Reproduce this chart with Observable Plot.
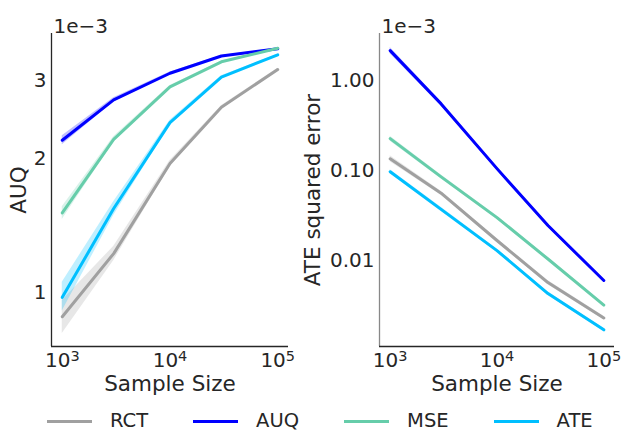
<!DOCTYPE html>
<html><head><meta charset="utf-8">
<script src="https://cdn.jsdelivr.net/npm/d3@7"></script>
<script src="https://cdn.jsdelivr.net/npm/@observablehq/plot@0.6"></script>
<style>
body{margin:0;background:#fff;font-family:"DejaVu Sans",sans-serif;color:#262626;}
#wrap{position:relative;width:621px;height:432px;overflow:hidden;background:#fff}
#left{position:absolute;left:0;top:0}
#right{position:absolute;left:300px;top:0}
#legend{position:absolute;left:47px;top:408px;height:26px;display:flex;font-size:19.5px;line-height:26px;white-space:nowrap}
.item{display:flex;align-items:center;margin-right:45px}
.sw{width:45px;height:3px;margin-right:18px}
</style></head>
<body><div id="wrap"><div id="left"></div><div id="right"></div><div id="legend"></div></div>
<script>
// Data (values in units of 1e-3)
const sizes = [1000, 3000, 10000, 30000, 100000];
const methods = ["RCT", "AUQ", "MSE", "ATE"];
const colors = ["#a0a0a0", "#0000ff", "#66cdaa", "#00bfff"];
const xTicks = [1e3, 1e4, 1e5];

// Left panel: AUQ
const auqRCT = [0.883, 1.224, 1.95, 2.61, 3.17];
const auqRCTlo = [0.81, 1.18, 1.92, 2.59, 3.15];
const auqRCThi = [0.96, 1.27, 1.98, 2.63, 3.19];
const auqAUQ = [2.20, 2.71, 3.11, 3.40, 3.53];
const auqAUQlo = [2.15, 2.68, 3.09, 3.39, 3.52];
const auqAUQhi = [2.25, 2.74, 3.13, 3.41, 3.54];
const auqMSE = [1.51, 2.21, 2.90, 3.30, 3.54];
const auqMSElo = [1.46, 2.18, 2.88, 3.29, 3.53];
const auqMSEhi = [1.56, 2.24, 2.92, 3.31, 3.55];
const auqATE = [0.976, 1.545, 2.41, 3.05, 3.42];
const auqATElo = [0.91, 1.49, 2.38, 3.03, 3.41];
const auqATEhi = [1.055, 1.60, 2.44, 3.07, 3.43];
const leftTicks = [1, 2, 3];

// Right panel: ATE squared error
const errRCT = [0.135, 0.056, 0.0167, 0.0057, 0.0023];
const errRCTlo = [0.125, 0.053, 0.0160, 0.0054, 0.0022];
const errRCThi = [0.146, 0.059, 0.0175, 0.0060, 0.0024];
const errAUQ = [2.15, 0.55, 0.105, 0.0245, 0.006];
const errAUQlo = [1.98, 0.52, 0.100, 0.0235, 0.0058];
const errAUQhi = [2.33, 0.58, 0.110, 0.0255, 0.0062];
const errMSE = [0.226, 0.085, 0.030, 0.0104, 0.0032];
const errMSElo = [0.212, 0.081, 0.0288, 0.0100, 0.0031];
const errMSEhi = [0.240, 0.089, 0.0312, 0.0108, 0.0033];
const errATE = [0.097, 0.037, 0.0129, 0.0043, 0.0017];
const errATElo = [0.092, 0.035, 0.0124, 0.0041, 0.00163];
const errATEhi = [0.102, 0.039, 0.0134, 0.0045, 0.00177];
const rightTicks = [0.01, 0.1, 1];

function rowsOf(series) {
  const rows = [];
  series.forEach(([m, v, lo, hi]) => sizes.forEach((s, j) => rows.push({method: m, size: s, v: v[j], lo: lo[j], hi: hi[j]})));
  return rows;
}

function panel(o) {
  const rows = rowsOf(o.series);
  const xd = [10 ** 2.9, 10 ** 5.1];
  const chart = Plot.plot({
    width: o.width, height: 390,
    marginLeft: o.marginLeft, marginRight: o.marginRight, marginTop: 33, marginBottom: 44,
    style: {fontFamily: "DejaVu Sans", fontSize: "20px", color: "#262626", background: "white", overflow: "visible"},
    x: {type: "log", domain: xd, ticks: xTicks, tickFormat: d => "10|" + Math.round(Math.log10(d)), tickSize: 0, tickPadding: 6, label: null},
    y: {type: "log", domain: o.ydomain, ticks: o.yticks, tickFormat: o.yfmt, tickSize: 0, tickPadding: 5, label: null},
    color: {domain: methods, range: colors},
    marks: [
      Plot.areaY(rows, {x: "size", y1: "lo", y2: "hi", z: "method", fill: "method", fillOpacity: 0.25}),
      Plot.lineY(rows, {x: "size", y: "v", z: "method", stroke: "method", strokeWidth: 3, strokeLinejoin: "round"}),
      Plot.ruleX([xd[0]], {stroke: o.yspine, strokeWidth: 1.3}),
      Plot.ruleY([o.ydomain[0]], {stroke: "#262626", strokeWidth: 1.3}),
      Plot.text(["1e\u22123"], {frameAnchor: "top-left", textAnchor: "start", lineAnchor: "bottom", dx: 2, dy: -1}),
      Plot.text([o.ylabel], {frameAnchor: "left", rotate: -90, textAnchor: "middle", lineAnchor: "middle", dx: o.ylabelDx, fontSize: 21.5}),
      Plot.text(["Sample Size"], {frameAnchor: "bottom", textAnchor: "middle", lineAnchor: "middle", dy: 38, fontSize: 21.5})
    ]
  });
  // render x tick labels as 10 with a raised exponent
  d3.select(chart).selectAll('g[aria-label="x-axis tick label"] text').each(function() {
    const parts = this.textContent.split("|");
    if (parts.length !== 2) return;
    const t = d3.select(this);
    t.text(null);
    t.append("tspan").text(parts[0]);
    t.append("tspan").attr("dy", "-0.42em").attr("font-size", "14.5px").text(parts[1]);
  });
  return chart;
}

document.getElementById("left").appendChild(panel({
  width: 300, marginLeft: 51, marginRight: 12,
  ydomain: [0.757, 3.82], yticks: leftTicks, yfmt: d => String(d),
  ylabel: "AUQ", ylabelDx: -32, yspine: "#262626",
  series: [["RCT", auqRCT, auqRCTlo, auqRCThi], ["AUQ", auqAUQ, auqAUQlo, auqAUQhi], ["MSE", auqMSE, auqMSElo, auqMSEhi], ["ATE", auqATE, auqATElo, auqATEhi]]
}));
document.getElementById("right").appendChild(panel({
  width: 321, marginLeft: 79, marginRight: 7,
  ydomain: [0.00111, 3.33], yticks: rightTicks, yfmt: d => d.toFixed(2),
  ylabel: "ATE squared error", ylabelDx: -66, yspine: "#888888",
  series: [["RCT", errRCT, errRCTlo, errRCThi], ["AUQ", errAUQ, errAUQlo, errAUQhi], ["MSE", errMSE, errMSElo, errMSEhi], ["ATE", errATE, errATElo, errATEhi]]
}));

const leg = document.getElementById("legend");
methods.forEach((m, i) => {
  const it = document.createElement("div"); it.className = "item";
  const sw = document.createElement("div"); sw.className = "sw"; sw.style.background = colors[i];
  const tx = document.createElement("span"); tx.textContent = m;
  it.appendChild(sw); it.appendChild(tx); leg.appendChild(it);
});
</script>
</body></html>
